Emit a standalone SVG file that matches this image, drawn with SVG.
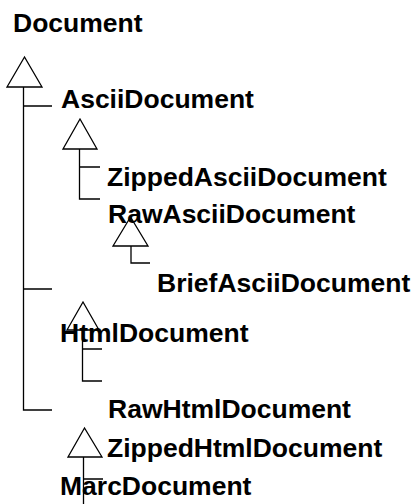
<svg xmlns="http://www.w3.org/2000/svg" width="415" height="504" viewBox="0 0 415 504">
  <style>
    .label { font-family: "Liberation Sans", Arial, Helvetica, sans-serif; font-weight: bold; font-size: 26.5px; fill: #000; }
    .edge { fill: none; stroke: #000; stroke-width: 1.3; }
    .tri { fill: #fff; stroke: #000; stroke-width: 1.3; stroke-linejoin: miter; }
  </style>
  <rect width="415" height="504" fill="#fff"/>

  <!-- inheritance connectors -->
  <g id="connectors">
    <!-- Document subclasses -->
    <path class="edge" d="M23.5,87 V410 H52 M23.5,106 H52 M23.5,289 H52"/>
    <polygon class="tri" points="24.5,57 7,87 42,87"/>
    <!-- AsciiDocument subclasses -->
    <path class="edge" d="M79.5,149 V199 H100 M79.5,167 H100"/>
    <polygon class="tri" points="80,119 63,149 97,149"/>
    <!-- RawAsciiDocument subclass -->
    <path class="edge" d="M131,246 V263 H150"/>
    <polygon class="tri" points="130.5,217 113,246 148,246"/>
    <!-- HtmlDocument subclasses -->
    <path class="edge" d="M82.5,330 V381 H102 M82.5,349 H102"/>
    <polygon class="tri" points="83,302 67,330 99,330"/>
    <!-- MarcDocument subclasses -->
    <path class="edge" d="M83.5,457 V504 M83.5,479 H103"/>
    <polygon class="tri" points="84.5,428 68,457 102,457"/>
  </g>

  <g id="Document"><text class="label" x="13" y="32">Document</text></g>
  <g id="AsciiDocument"><text class="label" x="61" y="108">AsciiDocument</text></g>
  <g id="ZippedAsciiDocument"><text class="label" x="107" y="186">ZippedAsciiDocument</text></g>
  <g id="RawAsciiDocument"><text class="label" x="108" y="223">RawAsciiDocument</text></g>
  <g id="BriefAsciiDocument"><text class="label" x="157" y="292">BriefAsciiDocument</text></g>
  <g id="HtmlDocument"><text class="label" x="60" y="342">HtmlDocument</text></g>
  <g id="RawHtmlDocument"><text class="label" x="108" y="418">RawHtmlDocument</text></g>
  <g id="ZippedHtmlDocument"><text class="label" x="107" y="457">ZippedHtmlDocument</text></g>
  <g id="MarcDocument"><text class="label" x="60" y="495">MarcDocument</text></g>
</svg>
